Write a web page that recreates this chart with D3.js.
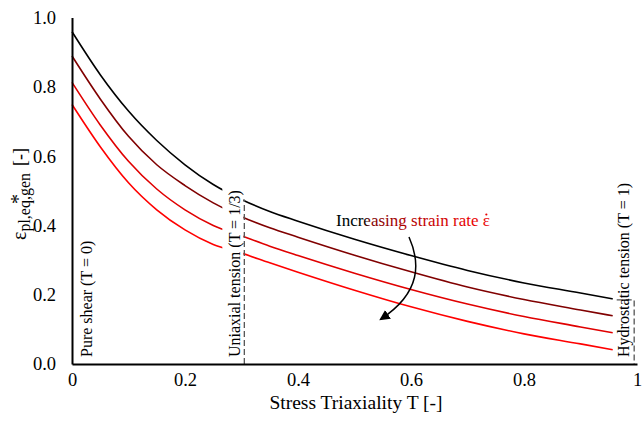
<!DOCTYPE html>
<html>
<head>
<meta charset="utf-8">
<script src="https://cdn.jsdelivr.net/npm/d3@7"></script>
<style>
  html, body { margin: 0; padding: 0; background: #fff; }
  svg { display: block; }
  text { font-family: "Liberation Serif", "Times New Roman", serif; }
</style>
</head>
<body>
<svg id="chart" width="642" height="424"></svg>
<script>
// ---- data ----
const triax = [0, 0.05, 0.1, 0.15, 0.2, 0.25, 0.3, 0.35, 0.4, 0.5, 0.6, 0.7, 0.8, 0.9, 0.957];
const rate1 = [0.959, 0.835, 0.730, 0.645, 0.575, 0.518, 0.475, 0.440, 0.412, 0.360, 0.313, 0.270, 0.234, 0.205, 0.188];
const rate2 = [0.889, 0.765, 0.657, 0.575, 0.515, 0.465, 0.425, 0.393, 0.366, 0.314, 0.266, 0.222, 0.186, 0.156, 0.139];
const rate3 = [0.813, 0.690, 0.585, 0.505, 0.445, 0.400, 0.370, 0.340, 0.313, 0.262, 0.215, 0.173, 0.137, 0.107, 0.090];
const rate4 = [0.749, 0.627, 0.523, 0.445, 0.387, 0.345, 0.320, 0.292, 0.265, 0.213, 0.165, 0.123, 0.087, 0.058, 0.041];
const seriesColors = ["#000000", "#800000", "#e00000", "#ff0000"];
const xTicks = [0, 0.2, 0.4, 0.6, 0.8, 1];
const xTickLabels = ["0", "0.2", "0.4", "0.6", "0.8", "1"];
const yTicks = [0, 0.2, 0.4, 0.6, 0.8, 1.0];
const yTickLabels = ["0.0", "0.2", "0.4", "0.6", "0.8", "1.0"];
const uniaxialT = 0.305, uniaxialTop = 0.475;
const hydroStartT = 0.957, hydroT = 0.995, hydroTop = 0.185;
const annotations = [
  { text: "Pure shear (T = 0)", t: 0 },
  { text: "Uniaxial tension (T = 1/3)", t: 0.305 },
  { text: "Hydrostatic tension (T = 1)", t: 1 }
];

// ---- layout ----
const svg = d3.select("#chart");
const defs = svg.append("defs");
const x = d3.scaleLinear().domain([0, 1]).range([72, 637]);
const y = d3.scaleLinear().domain([0, 1]).range([364, 17.5]);

const series = [rate1, rate2, rate3, rate4];
const line = d3.line().x((d, i) => x(triax[i])).y(d => y(d)).curve(d3.curveMonotoneX);

const gCurves = svg.append("g");
series.forEach((s, k) => {
  gCurves.append("path").attr("d", line(s)).attr("fill", "none")
    .attr("stroke", seriesColors[k]).attr("stroke-width", 1.6);
});

// white box behind the uniaxial label
svg.append("rect").attr("x", x(uniaxialT) - 22).attr("y", 168).attr("width", 21).attr("height", 194).attr("fill", "#fff");

// dashed marker lines
svg.append("line").attr("x1", x(uniaxialT)).attr("x2", x(uniaxialT))
  .attr("y1", y(0)).attr("y2", y(uniaxialTop))
  .attr("stroke", "#555").attr("stroke-width", 1.3).attr("stroke-dasharray", "6,3");
svg.append("path")
  .attr("d", `M${x(hydroStartT) + 4},${y(hydroTop)} H${x(hydroT)} V${y(0)}`)
  .attr("fill", "none").attr("stroke", "#555").attr("stroke-width", 1.3).attr("stroke-dasharray", "6,3");

// axes
const xAxis = d3.axisBottom(x).tickValues(xTicks).tickFormat((d, i) => xTickLabels[i]).tickSize(0).tickPadding(9);
const yAxis = d3.axisLeft(y).tickValues(yTicks).tickFormat((d, i) => yTickLabels[i]).tickSize(0).tickPadding(16);
const gx = svg.append("g").attr("transform", `translate(0,${y(0)})`).call(xAxis);
const gy = svg.append("g").attr("transform", `translate(${x(0)},0)`).call(yAxis);
[gx, gy].forEach(g => {
  g.select(".domain").attr("stroke", "#000").attr("stroke-width", 2);
  g.selectAll("text").attr("font-family", "Liberation Serif").attr("font-size", 18.5).attr("fill", "#000");
});

// axis titles
svg.append("text").attr("x", 356).attr("y", 409).attr("text-anchor", "middle")
  .attr("font-size", 19.5).text("Stress Triaxiality T [-]");

const yt = svg.append("g").attr("transform", "translate(26,240) rotate(-90)");
const ytt = yt.append("text").attr("font-size", 20);
ytt.append("tspan").text("ε");
ytt.append("tspan").attr("font-size", 16).attr("dy", 4).text("pl,eq,gen");
yt.append("text").attr("x", 36).attr("y", -1).attr("font-size", 20).text("*");
yt.append("text").attr("x", 74).attr("y", 0).attr("font-size", 18).text("[-]");

// rotated annotations
const annX = [92, 240, 629];
annotations.forEach((a, i) => {
  svg.append("text").attr("transform", `translate(${annX[i]},357) rotate(-90)`)
    .attr("font-size", 16).attr("fill", "#000").text(a.text);
});

// gradient text
const grad = defs.append("linearGradient").attr("id", "tg").attr("gradientUnits", "userSpaceOnUse")
  .attr("x1", 364).attr("x2", 470).attr("y1", 0).attr("y2", 0);
grad.append("stop").attr("offset", "0%").attr("stop-color", "#000");
grad.append("stop").attr("offset", "6%").attr("stop-color", "#800000");
grad.append("stop").attr("offset", "40%").attr("stop-color", "#b00000");
grad.append("stop").attr("offset", "100%").attr("stop-color", "#e80000");
const label = svg.append("text").attr("x", 336).attr("y", 226).attr("font-size", 17).attr("fill", "url(#tg)")
  .text("Increasing strain rate ε");
const node = label.node();
const n = node.getNumberOfChars();
const ext = node.getExtentOfChar(n - 1);
svg.append("circle").attr("cx", ext.x + ext.width / 2).attr("cy", 226 - 11.5).attr("r", 1.1).attr("fill", "#e80000");

// curved arrow
defs.append("marker").attr("id", "ah").attr("viewBox", "0 0 10 10").attr("refX", 8).attr("refY", 5)
  .attr("markerWidth", 7).attr("markerHeight", 7).attr("orient", "auto")
  .append("path").attr("d", "M0,0 L10,5 L0,10 Z").attr("fill", "#000");
svg.append("path").attr("d", "M409,237 C420,262 422,292 381,319")
  .attr("fill", "none").attr("stroke", "#000").attr("stroke-width", 1.5).attr("marker-end", "url(#ah)");
</script>
</body>
</html>
